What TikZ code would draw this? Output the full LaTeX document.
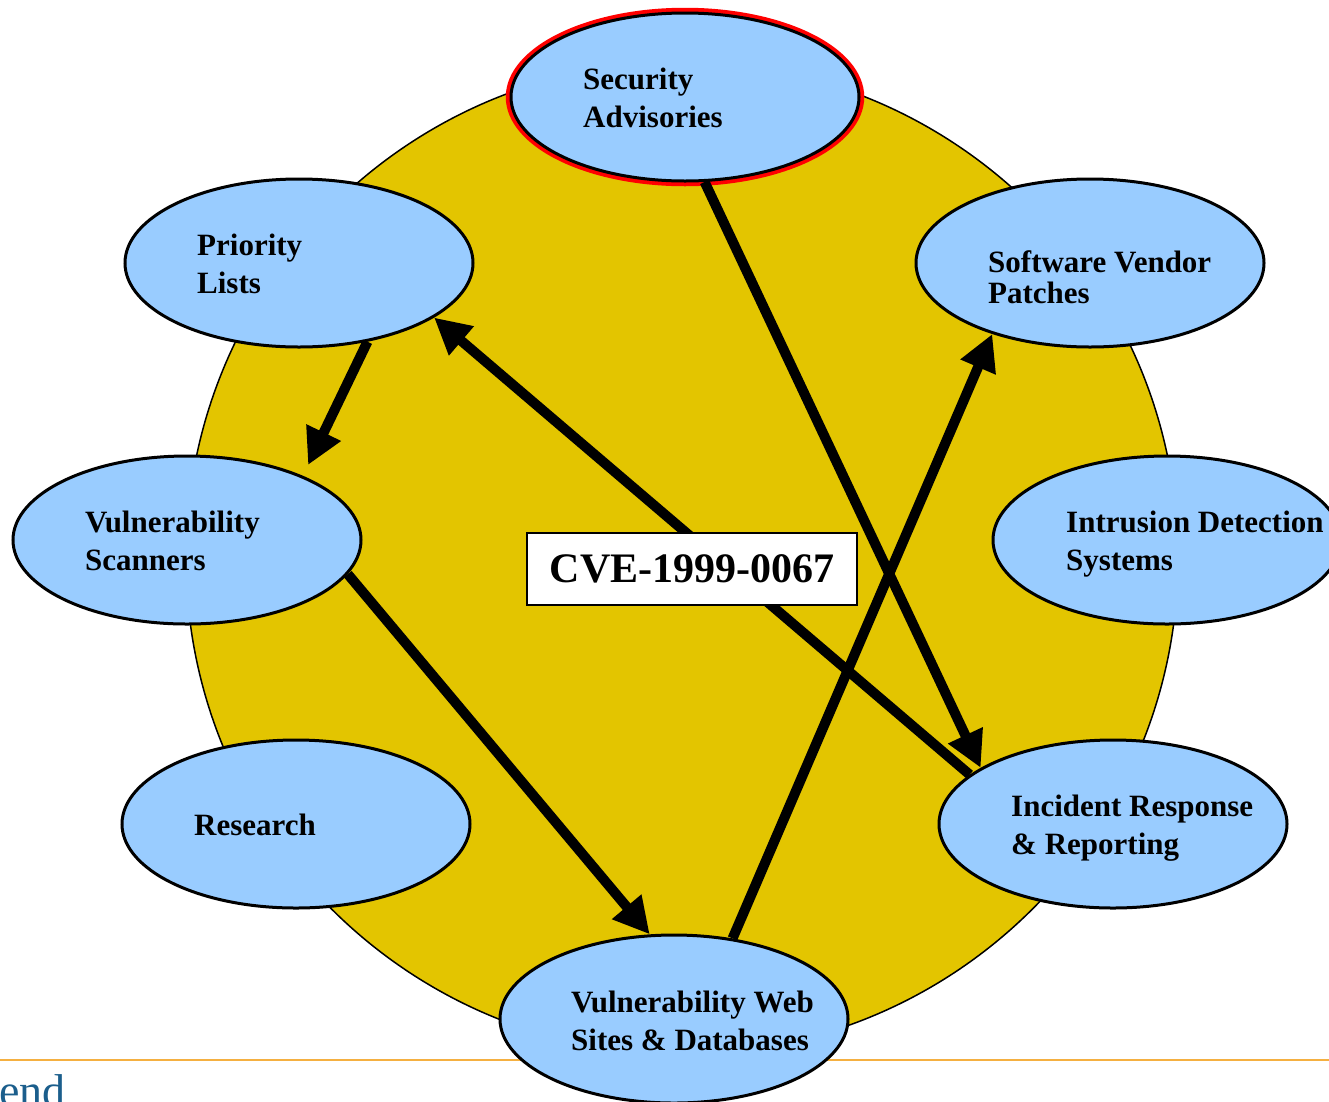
\documentclass[tikz,border=0pt]{standalone}
\usepackage{fontspec}
\setmainfont{Liberation Serif}
\usetikzlibrary{shapes.geometric,arrows.meta}
\definecolor{disc}{HTML}{E3C500}
\definecolor{bubblefill}{HTML}{99CCFF}
\definecolor{rulecol}{HTML}{F5B041}
\definecolor{heading}{HTML}{1B5E8C}

\begin{document}
\begin{tikzpicture}[x=1pt,y=-1pt,
  bubble/.style={ellipse, draw=black, line width=3pt, fill=bubblefill,
    minimum width=348pt, minimum height=168pt, inner sep=0pt},
  % anchored at the baseline of the last line
  bubbletext/.style={anchor=base west, inner sep=0pt, align=left,
    font=\fontsize{31}{38}\selectfont\bfseries},
  flow/.style={line width=10pt, -{Triangle[length=36pt,width=36pt]}},
]
\useasboundingbox (0,0) rectangle (1329,1101);
\clip (0,0) rectangle (1329,1101);

% page rule and heading fragment
\coordinate (ruleL) at (0,1060);
\coordinate (ruleR) at (1329,1060);
\draw[rulecol, line width=2pt] (ruleL) -- (ruleR);
\node[anchor=base east, inner sep=0pt, text=heading,
      font=\fontsize{46}{50}\selectfont] (head) at (66,1106) {end};

% central disc
\draw[fill=disc, line width=1.5pt] (682,558) circle[radius=496pt];

% surrounding sources
\draw[red, line width=4.5pt] (685,97) ellipse[x radius=177pt, y radius=87pt];
\node[bubble] (sa)  at (685,97)   {};
\node[bubble] (pl)  at (299,263)  {};
\node[bubble] (sv)  at (1090,263) {};
\node[bubble] (vs)  at (187,540)  {};
\node[bubble] (ids) at (1167,540) {};
\node[bubble] (rs)  at (296,824)  {};
\node[bubble] (ir)  at (1113,824) {};
\node[bubble] (web) at (674,1019) {};

\node[bubbletext] (saT)  at (583,127)  {Security\\Advisories};
\node[bubbletext] (plT)  at (197,293)  {Priority\\Lists};
\node[bubbletext, font=\fontsize{31}{31}\selectfont\bfseries]
                  (svT)  at (988,303)  {Software Vendor\\Patches};
\node[bubbletext] (vsT)  at (85,570)   {Vulnerability\\Scanners};
\node[bubbletext] (idsT) at (1066,570) {Intrusion Detection\\Systems};
\node[bubbletext] (rsT)  at (194,835)  {Research};
\node[bubbletext] (irT)  at (1011,854) {Incident Response\\\& Reporting};
\node[bubbletext] (webT) at (571,1050) {Vulnerability Web\\Sites \& Databases};

% information flows
\draw[flow] (sa.-77) -- (ir.157);
\draw[flow] (ir.161) -- (pl.-22);
\draw[flow, shorten >=12pt] (pl.-49) -- (vs.29);
\draw[flow] (vs.-12) -- (web.106);
\draw[flow] (web.54) -- (sv.216);

% identifier box, above the flows
\node[draw=black, fill=white, line width=1.5pt, minimum width=330pt,
      minimum height=72pt, inner sep=0pt,
      font=\fontsize{42}{46}\selectfont\bfseries] (cve) at (692,569) {CVE-1999-0067};
\end{tikzpicture}
\end{document}
